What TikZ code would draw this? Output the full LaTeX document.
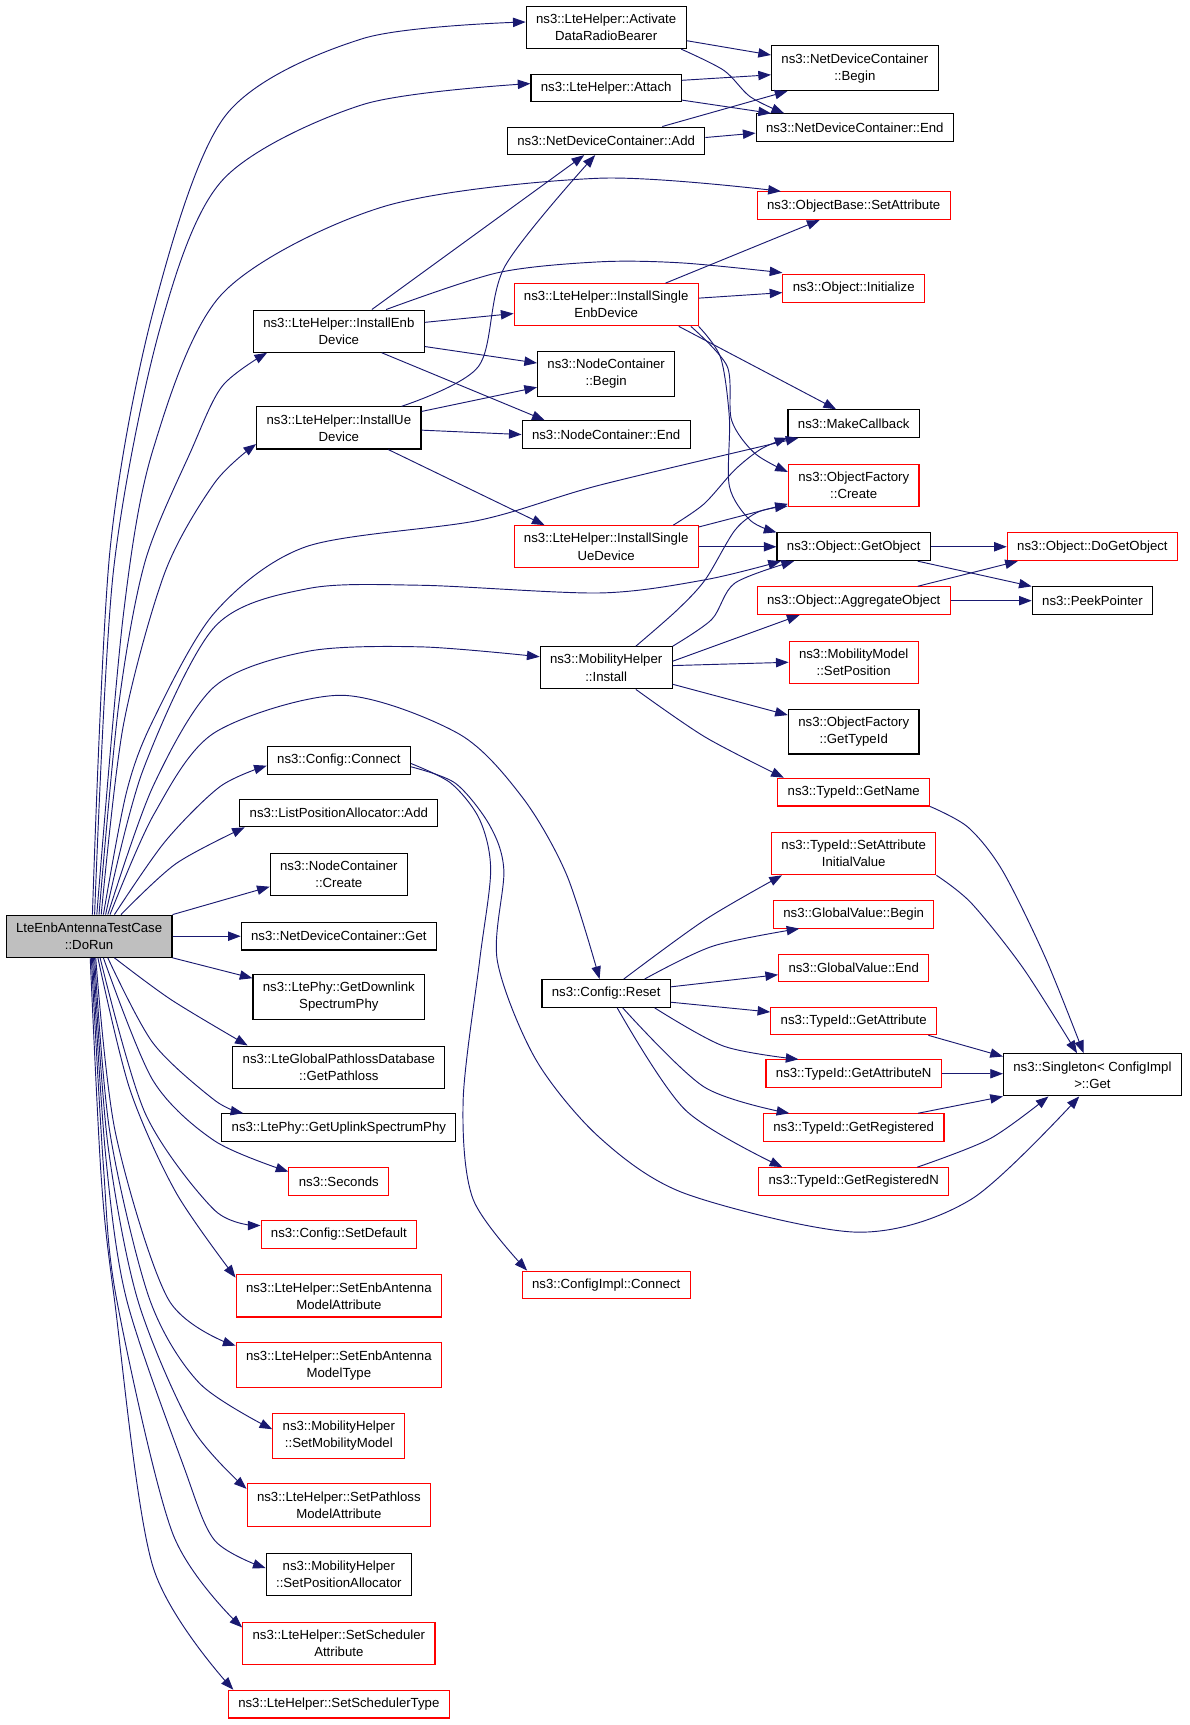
\documentclass[tikz,border=0pt]{standalone}
\usepackage{fontspec}
\setmainfont{Liberation Sans}
\usetikzlibrary{arrows.meta}

\definecolor{edgeblue}{HTML}{191970}
\definecolor{rootgray}{HTML}{BFBFBF}

\begin{document}
\begin{tikzpicture}[x=1pt,y=-1pt,
  fn/.style={draw=black, line width=1pt, fill=white, inner xsep=9pt, inner ysep=7pt,
    minimum height=25pt, align=center, font=\fontsize{12}{15.5}\selectfont},
  fnred/.style={fn, draw=red},
  call/.style={draw=edgeblue, line width=0.85pt, -{Triangle[length=11.5pt,width=8.5pt]}}]
\useasboundingbox (0,0) rectangle (1081,1568);

% root
\node[fn, fill=rootgray] (r) at (81,851) {LteEnbAntennaTestCase\\::DoRun};

% second column
\node[fn] (ied) at (308,301) {ns3::LteHelper::InstallEnb\\Device};
\node[fn] (iud) at (308,389) {ns3::LteHelper::InstallUe\\Device};
\node[fn] (ccn) at (308,691) {ns3::Config::Connect};
\node[fn] (lpa) at (308,739) {ns3::ListPositionAllocator::Add};
\node[fn] (ncc) at (308,795) {ns3::NodeContainer\\::Create};
\node[fn] (ndg) at (308,851) {ns3::NetDeviceContainer::Get};
\node[fn] (gdsp) at (308,906) {ns3::LtePhy::GetDownlink\\SpectrumPhy};
\node[fn] (gpl) at (308,970) {ns3::LteGlobalPathlossDatabase\\::GetPathloss};
\node[fn] (gusp) at (308,1025) {ns3::LtePhy::GetUplinkSpectrumPhy};
\node[fnred] (sec) at (308,1074) {ns3::Seconds};
\node[fnred] (sdf) at (308,1122) {ns3::Config::SetDefault};
\node[fnred] (seama) at (308,1178) {ns3::LteHelper::SetEnbAntenna\\ModelAttribute};
\node[fnred] (seamt) at (308,1241) {ns3::LteHelper::SetEnbAntenna\\ModelType};
\node[fnred] (smm) at (308,1305) {ns3::MobilityHelper\\::SetMobilityModel};
\node[fnred] (spma) at (308,1368) {ns3::LteHelper::SetPathloss\\ModelAttribute};
\node[fn] (spa) at (308,1431) {ns3::MobilityHelper\\::SetPositionAllocator};
\node[fnred] (ssa) at (308,1494) {ns3::LteHelper::SetScheduler\\Attribute};
\node[fnred] (sst) at (308,1549) {ns3::LteHelper::SetSchedulerType};

% third column
\node[fn] (adrb) at (551,25) {ns3::LteHelper::Activate\\DataRadioBearer};
\node[fn] (att) at (551,80) {ns3::LteHelper::Attach};
\node[fn] (ndca) at (551,128) {ns3::NetDeviceContainer::Add};
\node[fnred] (isend) at (551,277) {ns3::LteHelper::InstallSingle\\EnbDevice};
\node[fn] (ncb) at (551,340) {ns3::NodeContainer\\::Begin};
\node[fn] (nce) at (551,395) {ns3::NodeContainer::End};
\node[fnred] (isued) at (551,497) {ns3::LteHelper::InstallSingle\\UeDevice};
\node[fn] (mhi) at (551,607) {ns3::MobilityHelper\\::Install};
\node[fn] (crs) at (551,903) {ns3::Config::Reset};
\node[fnred] (cic) at (551,1168) {ns3::ConfigImpl::Connect};

% fourth column
\node[fn] (ndcb) at (777,62) {ns3::NetDeviceContainer\\::Begin};
\node[fn] (ndce) at (777,116) {ns3::NetDeviceContainer::End};
\node[fnred] (osa) at (776,187) {ns3::ObjectBase::SetAttribute};
\node[fnred] (oin) at (776,262) {ns3::Object::Initialize};
\node[fn] (mcb) at (776,385) {ns3::MakeCallback};
\node[fnred] (ofc) at (776,441) {ns3::ObjectFactory\\::Create};
\node[fn] (gob) at (776,497) {ns3::Object::GetObject};
\node[fnred] (aggr) at (776,546) {ns3::Object::AggregateObject};
\node[fnred] (mmsp) at (776,602) {ns3::MobilityModel\\::SetPosition};
\node[fn] (oft) at (776,665) {ns3::ObjectFactory\\::GetTypeId};
\node[fnred] (tgn) at (776,720) {ns3::TypeId::GetName};
\node[fnred] (saiv) at (776,776) {ns3::TypeId::SetAttribute\\InitialValue};
\node[fnred] (gvb) at (776,831) {ns3::GlobalValue::Begin};
\node[fnred] (gve) at (776,880) {ns3::GlobalValue::End};
\node[fnred] (tga) at (776,928) {ns3::TypeId::GetAttribute};
\node[fnred] (tgan) at (776,976) {ns3::TypeId::GetAttributeN};
\node[fnred] (tgr) at (776,1025) {ns3::TypeId::GetRegistered};
\node[fnred] (tgrn) at (776,1074) {ns3::TypeId::GetRegisteredN};

% last column
\node[fnred] (dgo) at (993,497) {ns3::Object::DoGetObject};
\node[fn] (peek) at (993,546) {ns3::PeekPointer};
\node[fn] (sgt) at (993,977) {ns3::Singleton< ConfigImpl\\ >::Get};

% calls of the root, upwards
\draw[call] plot[smooth] coordinates {([xshift=3pt]r.north) (100,500) (140,280) (205,105) (330,35) ([yshift=5pt]adrb.west)};
\draw[call] plot[smooth] coordinates {([xshift=5pt]r.north) (103,520) (145,300) (202,164) (330,95) ([yshift=4pt]att.west)};
\draw[call] plot[smooth] coordinates {([xshift=7pt]r.north) (112,560) (139,409) (202,267) (348,188) (545,162) ([xshift=22pt]osa.north west)};
\draw[call] plot[smooth] coordinates {([xshift=9pt]r.north) (108,640) (132,510) (174,409) (202,351) ([xshift=13pt]ied.south west)};
\draw[call] plot[smooth] coordinates {([xshift=11pt]r.north) (112,660) (150,520) (195,439) ([yshift=5pt]iud.south west)};
\draw[call] plot[smooth] coordinates {([xshift=13pt]r.north) (115,720) (139,655) (195,557) (278,497) (435,473) (545,441) ([xshift=10pt]mcb.south west)};
\draw[call] plot[smooth] coordinates {([xshift=15pt]r.north) (130,700) (195,570) (280,535) (383,532) (545,539) (641,527) ([xshift=4pt]gob.south west)};
\draw[call] plot[smooth] coordinates {([xshift=17pt]r.north) (139,715) (195,624) (280,592) (383,588) ([yshift=10pt]mhi.west)};
\draw[call] plot[smooth] coordinates {([xshift=19pt]r.north) (140,740) (195,666) (310,632) (417,667) (475,725) (515,795) ([xshift=-6pt]crs.north)};
\draw[call] plot[smooth] coordinates {([xshift=23pt]r.north) (150,765) (200,715) ([yshift=-5pt]ccn.west)};
\draw[call] plot[smooth] coordinates {([xshift=29pt]r.north) (160,785) ([xshift=5pt]lpa.south west)};
\draw[call] (r.north east) -- ([yshift=-11pt]ncc.west);
\draw[call] (r.east) -- (ndg.west);
\draw[call] (r.south east) -- ([yshift=-4pt]gdsp.north west);

% calls of the root, downwards
\draw[call] plot[smooth] coordinates {([xshift=23pt]r.south) (156,909) ([xshift=14pt]gpl.north west)};
\draw[call] plot[smooth] coordinates {([xshift=17pt]r.south) (139,948) (195,1000) ([xshift=20pt]gusp.north west)};
\draw[call] plot[smooth] coordinates {([xshift=13pt]r.south) (139,982) (195,1037) ([yshift=-4pt]sec.north west)};
\draw[call] plot[smooth] coordinates {([xshift=10pt]r.south) (132,1012) (195,1100) ([yshift=-5pt]sdf.north west)};
\draw[call] plot[smooth] coordinates {([xshift=8pt]r.south) (118,990) (160,1084) ([yshift=-3pt]seama.north west)};
\draw[call] plot[smooth] coordinates {([xshift=6pt]r.south) (105,1030) (153,1181) ([yshift=-3pt]seamt.north west)};
\draw[call] plot[smooth] coordinates {([xshift=5pt]r.south) (100,1030) (136,1181) (181,1257) ([yshift=-15pt]smm.north west)};
\draw[call] plot[smooth] coordinates {([xshift=4pt]r.south) (98,1040) (125,1181) (174,1297) ([yshift=-5pt]spma.north west)};
\draw[call] plot[smooth] coordinates {([xshift=3pt]r.south) (96,1050) (115,1181) (167,1333) (195,1400) ([yshift=-14pt]spa.north west)};
\draw[call] plot[smooth] coordinates {([xshift=2pt]r.south) (94,1060) (106,1181) (157,1394) ([yshift=-5pt]ssa.north west)};
\draw[call] plot[smooth] coordinates {([xshift=1pt]r.south) (92,1070) (104,1181) (139,1424) ([xshift=5pt]sst.north west)};

% net devices
\draw[call] ([yshift=-12pt]adrb.east) -- ([yshift=12pt]ndcb.west);
\draw[call] plot[smooth] coordinates {([xshift=-5pt]adrb.south east) (658,64) (682,88) ([xshift=26pt]ndce.north west)};
\draw[call] ([yshift=7pt]att.east) -- ([yshift=-6pt]ndcb.west);
\draw[call] ([yshift=-11pt]att.east) -- ([xshift=14pt]ndce.north west);
\draw[call] ([xshift=51pt]ndca.north) -- ([xshift=15pt]ndcb.south west);
\draw[call] ([yshift=3pt]ndca.east) -- ([yshift=-5pt]ndce.west);

% install enb / ue
\draw[call] ([xshift=30pt]ied.north) -- ([xshift=-20pt]ndca.south);
\draw[call] plot[smooth] coordinates {([xshift=57pt]iud.north) (435,333) (459,242) ([xshift=-10pt]ndca.south)};
\draw[call] plot[smooth] coordinates {([xshift=43pt]ied.north) (452,248) (545,238) (620,239) ([yshift=1pt]oin.north west)};
\draw[call] ([yshift=8pt]ied.east) -- ([yshift=-8pt]isend.west);
\draw[call] ([yshift=-14pt]ied.east) -- ([yshift=10pt]ncb.west);
\draw[call] ([xshift=39pt]ied.south) -- ([xshift=21pt]nce.north west);
\draw[call] ([yshift=15pt]iud.east) -- ([yshift=-12pt]ncb.west);
\draw[call] ([yshift=-2pt]iud.east) -- (nce.west);
\draw[call] ([xshift=45pt]iud.south) -- ([xshift=-56pt]isued.north);

% install single enb
\draw[call] ([xshift=54pt]isend.north) -- ([xshift=-31pt]osa.south);
\draw[call] ([yshift=6pt]isend.east) -- ([yshift=-4pt]oin.west);
\draw[call] ([xshift=66pt]isend.south) -- ([xshift=-16pt]mcb.north);
\draw[call] plot[smooth] coordinates {([xshift=77pt]isend.south) (661,333) (665,382) (686,412) ([yshift=12pt]ofc.west)};
\draw[call] plot[smooth] coordinates {([xshift=84pt]isend.south) (655,325) (663,380) (663,442) (682,473) (gob.north west)};

% install single ue
\draw[call] plot[smooth] coordinates {([xshift=61pt]isued.north) (640,458) (668,427) (692,408) (mcb.south west)};
\draw[call] ([yshift=18pt]isued.east) -- ([yshift=-17pt]ofc.west);
\draw[call] (isued.east) -- (gob.west);

% objects
\draw[call] (gob.east) -- (dgo.west);
\draw[call] ([xshift=-12pt]gob.south east) -- (peek.north west);
\draw[call] ([xshift=-30pt]aggr.north east) -- ([xshift=10pt]dgo.south west);
\draw[call] (aggr.east) -- (peek.west);

% mobility install
\draw[call] plot[smooth] coordinates {([xshift=27pt]mhi.north) (615,555) (641,527) (668,482) (690,465) ([yshift=-19pt]ofc.west)};
\draw[call] plot[smooth] coordinates {(mhi.north east) (647,563) (668,530) ([xshift=16pt]gob.south west)};
\draw[call] ([yshift=6pt]mhi.east) -- ([xshift=39pt]aggr.south west);
\draw[call] ([yshift=2pt]mhi.east) -- (mmsp.west);
\draw[call] ([yshift=-15pt]mhi.east) -- ([yshift=15pt]oft.west);
\draw[call] plot[smooth] coordinates {([xshift=27pt]mhi.south) (641,670) ([xshift=6pt]tgn.north west)};

% singleton
\draw[call] plot[smooth] coordinates {(tgn.south east) (880,752) (911,791) (950,870) ([xshift=-8pt]sgt.north)};
\draw[call] plot[smooth] coordinates {(saiv.south east) (883,821) (930,880) ([xshift=-14pt]sgt.north)};

% config reset
\draw[call] plot[smooth] coordinates {([xshift=16pt]crs.north) (641,836) ([xshift=10pt]saiv.south west)};
\draw[call] plot[smooth] coordinates {([xshift=35pt]crs.north) (648,860) ([xshift=24pt]gvb.south west)};
\draw[call] ([yshift=6pt]crs.east) -- ([yshift=-6pt]gve.west);
\draw[call] ([yshift=-8pt]crs.east) -- ([yshift=-5pt]tga.north west);
\draw[call] plot[smooth] coordinates {([xshift=44pt]crs.south) (658,951) ([xshift=30pt]tgan.north west)};
\draw[call] plot[smooth] coordinates {([xshift=15pt]crs.south) (640,988) ([xshift=24pt]tgr.north west)};
\draw[call] plot[smooth] coordinates {([xshift=10pt]crs.south) (623,1009) ([xshift=22pt]tgrn.north west)};
\draw[call] ([xshift=-8pt]tga.south east) -- ([yshift=-3pt]sgt.north west);
\draw[call] (tgan.east) -- ([yshift=1pt]sgt.west);
\draw[call] ([xshift=-24pt]tgr.north east) -- (sgt.south west);
\draw[call] plot[smooth] coordinates {([xshift=-29pt]tgrn.north east) (900,1035) ([xshift=-40pt]sgt.south)};

% config connect
\draw[call] plot[smooth] coordinates {([yshift=-3pt]ccn.east) (410,712) (436,745) (446,791) (436,873) (421,1000) (430,1090) ([xshift=5pt]cic.north west)};
\draw[call] plot[smooth] coordinates {([yshift=-6pt]ccn.east) (414,712) (445,750) (458,791) (452,873) (487,963) (545,1034) (623,1085) (779,1120) (883,1090) ([xshift=-12pt]sgt.south)};
\end{tikzpicture}
\end{document}
